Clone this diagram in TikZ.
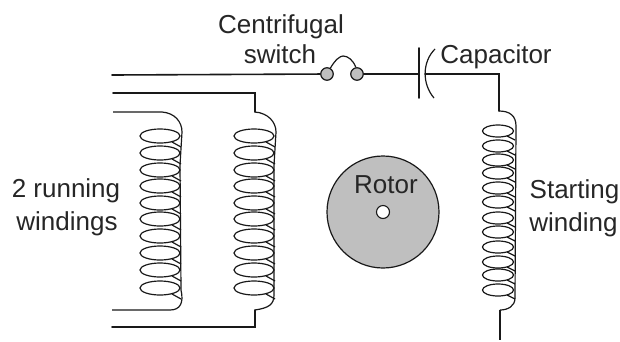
\documentclass[tikz,border=0pt]{standalone}
\usepackage{fontspec}
\setmainfont{Liberation Sans}
\tikzset{
  wire/.style={line width=1.6pt,draw=black!90,line cap=round},
  thin wire/.style={line width=1.2pt,draw=black!90},
  loopcoil/.style={line width=1.2pt,draw=black!90},
  label/.style={font=\fontsize{26}{30}\selectfont,anchor=base,inner sep=0pt,text=black!85},
  contact/.style={circle,draw=black!90,fill=black!25,line width=1.2pt,minimum size=12.5pt,inner sep=0pt},
}
\begin{document}
\begin{tikzpicture}[x=1pt,y=-1pt]
\useasboundingbox (0,0) rectangle (620,341);
% labels
\node[label] (lcent) at (281,33) {Centrifugal};
\node[label] (lsw) at (280,63) {switch};
\node[label] (lcap) at (496,63) {Capacitor};
\node[label] (lrun1) at (66,197) {2 running};
\node[label] (lrun2) at (67,230) {windings};
\node[label] (lst1) at (574.5,198) {Starting};
\node[label] (lst2) at (573.5,231) {winding};
% rotor
\node[circle,draw=black!90,fill=black!25,line width=1.2pt,minimum size=112pt,inner sep=0pt] (rotor) at (383,212) {};
\node[circle,draw=black!90,fill=white,line width=1.1pt,minimum size=13pt,inner sep=0pt] (shaft) at (383,212) {};
\node[label] (lrot) at (386,193) {Rotor};
% coordinates
\coordinate (a0) at (112,75);
\coordinate (b0) at (113,93);
\coordinate (b1) at (255,93);
\coordinate (b2) at (255,112);
\coordinate (c0) at (113,112);
\coordinate (c1) at (162,112);
\coordinate (d0) at (112,310);
\coordinate (d1) at (170,310);
\coordinate (e0) at (112,327);
\coordinate (e1) at (255,327);
\coordinate (e2) at (255,310);
\coordinate (f1) at (499,74);
\coordinate (f2) at (499,111);
\coordinate (g1) at (500,310);
\coordinate (g2) at (500,340);
% switch
\node[contact] (s1) at (327,74) {};
\node[contact] (s2) at (357,74) {};
\coordinate (p1) at (419,48);
\coordinate (p2) at (419,98);
\coordinate (pm) at (419,74);
\coordinate (q0) at (425,74);
\draw[wire] (a0) -- (s1);
\draw[thin wire] (s1.60) .. controls (335,60) and (340,56) .. (343,56) .. controls (348,56) and (353,60) .. (s2.100);
\draw[wire] (s2) -- (pm);
\draw[wire] (p1) -- (p2);
\draw[thin wire] (435,49) .. controls (422,62) and (422,84) .. (434,98);
\draw[wire] (q0) -- (f1) -- (f2);
% coil 1
\foreach \y in {136,153,170,186,203,219,236,253,270,288}{
  \draw[loopcoil] (160,\y) ellipse [x radius=20,y radius=7];
  \draw[loopcoil] (172,\y+6) -- (181,\y+11);
}
\draw[wire] (b0) -- (b1) -- (b2);
\draw[thin wire] (c0) -- (c1) .. controls (175,113) and (182,122) .. (182,132) -- (180,165) -- (181,290) .. controls (184,303) and (180,310) .. (d1) -- (d0);
% coil 2
\foreach \y in {136,153,170,186,203,219,236,253,270,288}{
  \draw[loopcoil] (254,\y) ellipse [x radius=20,y radius=7];
  \draw[loopcoil] (266,\y+6) -- (275,\y+11);
}
\draw[thin wire] (b2) .. controls (268,113) and (276,122) .. (276,132) -- (274,165) -- (274,295) .. controls (274,305) and (268,308) .. (e2);
\draw[wire] (e2) -- (e1) -- (e0);
% coil 3
\foreach \y in {131,146,160,173,188,202,218,232,247,262,275,290}{
  \draw[loopcoil] (498,\y) ellipse [x radius=15.5,y radius=6];
  \draw[loopcoil] (507,\y+5) -- (515,\y+9);
}
\draw[thin wire] (f2) .. controls (510,111) and (516,116) .. (516,126) -- (515,298) .. controls (515,306) and (508,310) .. (g1);
\draw[thin wire] (g1) -- (g2);
\end{tikzpicture}
\end{document}
